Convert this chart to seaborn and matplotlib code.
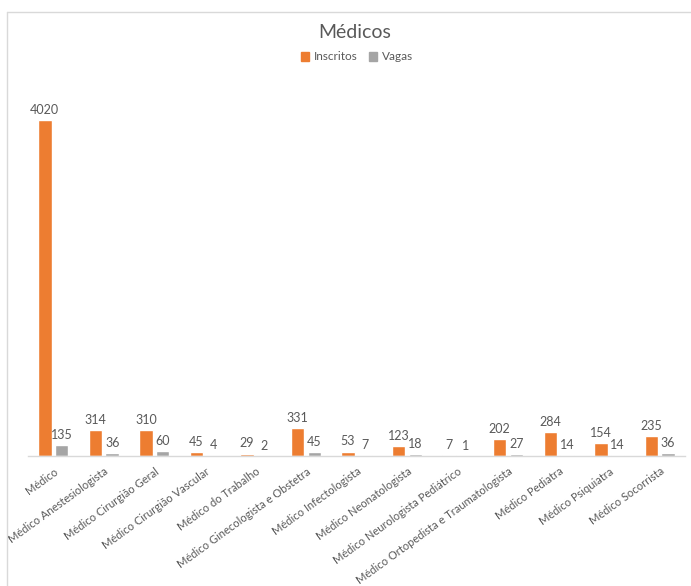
import matplotlib
matplotlib.use("Agg")
import matplotlib.pyplot as plt
from matplotlib.lines import Line2D
from matplotlib.patches import Patch
import seaborn as sns
import pandas as pd

categorias = ["Médico", "Médico Anestesiologista", "Médico Cirurgião Geral",
              "Médico Cirurgião Vascular", "Médico do Trabalho",
              "Médico Ginecologista e Obstetra", "Médico Infectologista",
              "Médico Neonatologista", "Médico Neurologista Pediátrico",
              "Médico Ortopedista e Traumatologista", "Médico Pediatra",
              "Médico Psiquiatra", "Médico Socorrista"]
inscritos = [4020, 314, 310, 45, 29, 331, 53, 123, 7, 202, 284, 154, 235]
vagas = [135, 36, 60, 4, 2, 45, 7, 18, 1, 27, 14, 14, 36]
series = ["Inscritos", "Vagas"]
cores = ["#ED7D31", "#A5A5A5"]
texto = "#595959"

df = pd.DataFrame({
    "Categoria": categorias * 2,
    "Valor": inscritos + vagas,
    "Série": [series[0]] * len(categorias) + [series[1]] * len(categorias),
})

sns.set_style("white")
plt.rcParams["font.family"] = ["Lato", "DejaVu Sans"]

fig = plt.figure(figsize=(6.91, 5.86), dpi=100)
ax = fig.add_axes([28 / 691, 130 / 586, 657 / 691, 376 / 586])

sns.barplot(data=df, x="Categoria", y="Valor", hue="Série", palette=cores,
            width=0.666, gap=0.2, ax=ax, legend=False, saturation=1)

for cont in ax.containers:
    ax.bar_label(cont, labels=[f"{int(v)}" for v in cont.datavalues],
                 padding=3, fontsize=9, color=texto)

ax.set_ylim(0, 4500)
ax.set_xlim(-0.5, len(categorias) - 0.5)
ax.set_xlabel("")
ax.set_ylabel("")
ax.set_yticks([])
for s in ["top", "right", "left"]:
    ax.spines[s].set_visible(False)
ax.spines["bottom"].set_color("#D9D9D9")
ax.spines["bottom"].set_linewidth(1)
ax.tick_params(axis="x", length=0, pad=7)
ax.set_xticks(range(len(categorias)))
ax.set_xticklabels(categorias, rotation=36, ha="right", rotation_mode="anchor",
                   fontsize=8, color=texto)

fig.text(355 / 691, 1 - 32 / 586, "Médicos", ha="center", va="center",
         fontsize=14, color=texto)
handles = [Patch(facecolor=c, edgecolor=c) for c in cores]
fig.legend(handles, series, loc="center", bbox_to_anchor=(357 / 691, 1 - 57 / 586),
           ncol=2, frameon=False, fontsize=8.5, labelcolor=texto,
           handlelength=0.7, handleheight=0.7, handletextpad=0.4, columnspacing=1.0)

fig.add_artist(Line2D([7 / 691, 1], [1 - 12 / 586, 1 - 12 / 586],
                      transform=fig.transFigure, color="#D9D9D9", lw=1))
fig.add_artist(Line2D([7 / 691, 7 / 691], [0, 1 - 12 / 586],
                      transform=fig.transFigure, color="#D9D9D9", lw=1))

fig.savefig("out.png", dpi=100, facecolor="white")
